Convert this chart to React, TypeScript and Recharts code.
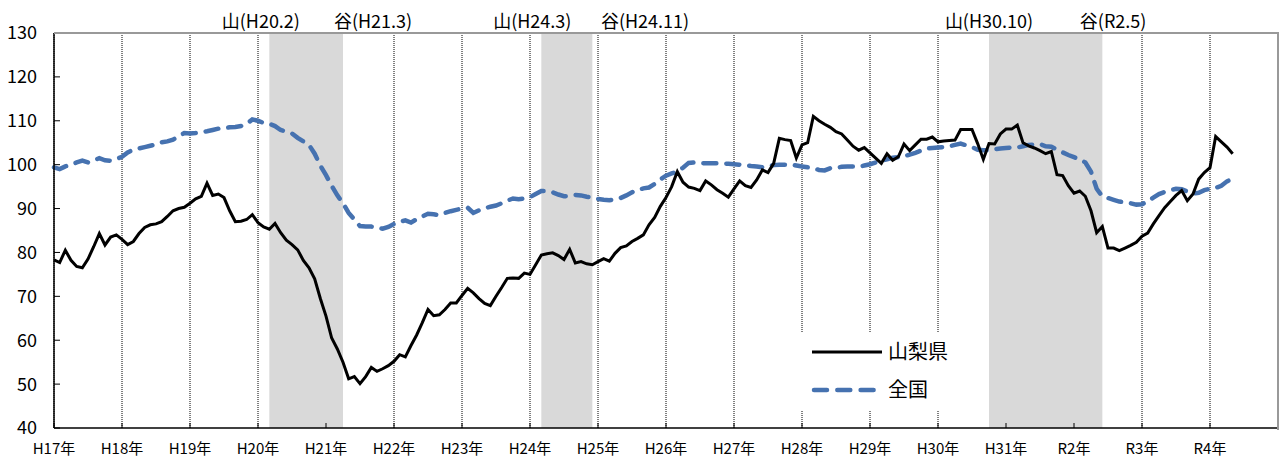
import React from "react";
import {
  CartesianGrid,
  Line,
  LineChart,
  ReferenceArea,
  ReferenceDot,
  XAxis,
  YAxis
} from "recharts";

// monthly index, H17.1 = 0
const yearLabels = [
  "H17年", "H18年", "H19年", "H20年", "H21年", "H22年", "H23年", "H24年", "H25年",
  "H26年", "H27年", "H28年", "H29年", "H30年", "H31年", "R2年", "R3年", "R4年"
];

const yamanashi = [
  78.3, 77.7, 80.5, 78.2, 76.8, 76.5, 78.5, 81.3, 84.3, 81.7, 83.5, 84.0,
  83.0, 81.8, 82.5, 84.3, 85.7, 86.3, 86.5, 87.0, 88.2, 89.5, 90.0, 90.3,
  91.2, 92.2, 92.8, 95.8, 93.0, 93.3, 92.5, 89.5, 87.0, 87.1, 87.5, 88.6,
  86.8, 85.8, 85.3, 86.6, 84.5, 82.8, 81.8, 80.6, 78.2, 76.5, 74.0, 69.5,
  65.5, 60.5, 58.0, 55.0, 51.2, 51.7, 50.1, 51.7, 53.8, 52.9, 53.5, 54.2,
  55.2, 56.7, 56.2, 58.8, 61.2, 64.0, 67.0, 65.6, 65.8, 67.0, 68.5, 68.5,
  70.2, 71.8, 70.8, 69.5, 68.4, 67.9, 70.0, 72.0, 74.1, 74.2, 74.1, 75.3,
  75.0, 77.2, 79.4, 79.7, 79.9, 79.3, 78.4, 80.7, 77.6, 77.9, 77.4, 77.2,
  77.9, 78.6, 78.0, 79.8, 81.1, 81.5, 82.5, 83.2, 84.0, 86.3, 88.0, 90.5,
  92.5, 95.0, 98.4, 96.0, 94.9, 94.6, 94.1, 96.3, 95.4, 94.3, 93.5, 92.6,
  94.5, 96.3, 95.2, 94.8, 96.5, 98.8, 98.2, 100.3, 106.0, 105.7, 105.5, 101.5,
  104.5, 105.0, 111.0, 110.0, 109.2, 108.5, 107.5, 107.0, 105.6, 104.2, 103.3, 103.9,
  102.7, 101.5, 100.3, 102.5, 101.0, 101.8, 104.7, 103.2, 104.5, 105.8, 105.8, 106.3,
  105.2, 105.4, 105.5, 105.6, 108.0, 108.0, 108.0, 104.8, 101.2, 104.8, 104.7, 107.0,
  108.1, 108.1, 109.0, 105.0, 104.3, 103.8, 103.2, 102.5, 103.0, 97.7, 97.5, 95.2,
  93.5, 94.0, 92.8, 89.5, 84.5, 85.9, 81.0, 81.0, 80.4, 81.0, 81.6, 82.3,
  83.7, 84.4, 86.5, 88.4, 90.2, 91.6, 93.0, 94.1, 91.8, 93.3, 96.7, 98.2,
  99.3, 106.4, 105.2, 104.0, 102.5
];

const zenkoku = [
  99.4, 99.0, 99.6, 100.0, 100.5, 100.9, 100.5, 100.9, 101.5, 101.0, 100.9, 101.3,
  101.8, 102.8, 103.4, 103.7, 104.0, 104.3, 104.6, 105.1, 105.3, 105.7, 106.5, 107.2,
  107.1, 107.2, 107.4, 107.6, 107.9, 108.2, 108.3, 108.5, 108.6, 108.8, 109.3, 110.3,
  110.0, 109.5, 109.3, 108.8, 107.9, 107.5, 107.1, 106.1, 105.3, 104.5, 102.5, 99.8,
  97.6, 95.2, 93.0, 91.2, 89.0, 87.5, 86.0, 85.9, 85.9, 85.6, 85.4, 85.8,
  86.5, 87.0, 87.3, 86.8, 87.6, 88.2, 88.8, 88.7, 88.5, 89.0, 89.4, 89.7,
  90.0, 90.2, 89.0, 89.6, 90.1, 90.4, 90.7, 91.2, 91.8, 92.3, 92.1, 92.3,
  92.6, 93.3, 94.0, 94.0, 93.7, 93.2, 92.8, 92.9, 93.1, 93.0, 92.7, 92.5,
  92.2, 92.0, 91.9, 92.1, 92.4, 93.0, 93.7, 94.2, 94.6, 94.8, 95.6, 96.6,
  97.5, 98.0, 98.4, 99.3, 100.4, 100.5, 100.4, 100.3, 100.3, 100.3, 100.3, 100.2,
  100.1, 100.0, 99.9, 99.7, 99.6, 99.4, 99.6, 99.9, 100.0, 100.0, 100.0, 99.8,
  99.6, 99.4, 99.2, 98.8, 98.7, 99.2, 99.3, 99.5, 99.6, 99.6, 99.5, 99.8,
  100.1, 100.5, 100.9, 101.2, 101.6, 101.7, 101.9, 102.3, 102.7, 103.2, 103.7, 103.8,
  103.9, 104.0, 104.2, 104.5, 104.8, 104.4, 104.0, 103.4, 103.3, 103.3, 103.5, 103.7,
  103.8, 103.9, 103.9, 104.2, 104.5, 104.6, 104.7, 104.2, 104.1, 103.4, 102.8, 102.2,
  101.7, 101.2, 100.5, 98.4, 94.5, 92.8, 92.4, 92.0, 91.6, 91.4, 91.2, 90.9,
  91.0, 91.6, 92.5, 93.3, 93.8, 94.2, 94.5, 94.4, 93.9, 93.4, 93.6, 94.2,
  94.5, 94.7, 95.2, 96.2, 96.8
];

const yTicks = [40, 50, 60, 70, 80, 90, 100, 110, 120, 130];

// 景気後退期 (山 -> 谷)
const recessions = [
  { from: 38, to: 51 },
  { from: 86, to: 95 },
  { from: 165, to: 185 }
];

const turningPoints = [
  { label: "山(H20.2)", at: 36.5 },
  { label: "谷(H21.3)", at: 56.3 },
  { label: "山(H24.3)", at: 84.4 },
  { label: "谷(H24.11)", at: 104.3 },
  { label: "山(H30.10)", at: 165 },
  { label: "谷(R2.5)", at: 186.9 }
];

const data = yamanashi.map((v, i) => ({ month: i, yamanashi: v, zenkoku: zenkoku[i] }));
const xTicks = yearLabels.map((_, k) => k * 12);

const FONT = "'Noto Sans CJK JP', 'Liberation Sans', sans-serif";
const BLUE = "#4672b0";
const FRAME = "#999";

function XTick(props: any) {
  const { x, y, payload } = props;
  return (
    <g>
      <line x1={x} x2={x} y1={y - 15} y2={y - 20} stroke="#000" />
      <text x={x} y={y} dy="0.71em" textAnchor="middle" fontSize={15} fill="#000" fontFamily={FONT}>
        {yearLabels[Math.round(payload.value / 12)]}
      </text>
    </g>
  );
}

function YTick(props: any) {
  const { x, y, payload } = props;
  return (
    <g>
      <line x1={x + 17} x2={x + 23} y1={y} y2={y} stroke="#000" />
      <text x={x} y={y} dy="0.36em" textAnchor="end" fontSize={18} fill="#000" fontFamily={FONT}>
        {payload.value}
      </text>
    </g>
  );
}

export default function App() {
  return (
    <div style={{ position: "relative", width: 1283, height: 458, background: "#fff" }}>
      <style>{"body{margin:0}"}</style>
      <LineChart width={1283} height={458} data={data} margin={{ top: 33, right: 5, bottom: 0, left: 0 }}>
        <CartesianGrid horizontal={false} stroke="#000" strokeDasharray="1 1" />
        {recessions.map((r) => (
          <ReferenceArea key={r.from} x1={r.from} x2={r.to} fill="#d9d9d9" fillOpacity={1} stroke="none" />
        ))}
        <XAxis
          dataKey="month"
          type="number"
          domain={[0, 216]}
          ticks={xTicks}
          interval={0}
          height={30}
          tickLine={false}
          tickSize={0}
          tickMargin={15}
          axisLine={{ stroke: "#000", strokeWidth: 1.5 }}
          tick={<XTick />}
        />
        <YAxis
          domain={[40, 130]}
          ticks={yTicks}
          width={54}
          tickLine={false}
          tickSize={0}
          tickMargin={17}
          axisLine={{ stroke: "#000", strokeWidth: 1.5 }}
          tick={<YTick />}
        />
        {turningPoints.map((t) => (
          <ReferenceDot
            key={t.label}
            x={t.at}
            y={130}
            r={0}
            fill="none"
            stroke="none"
            label={{ value: t.label, position: "top", offset: 5, fontSize: 18, fill: "#000", fontFamily: FONT }}
          />
        ))}
        <Line
          dataKey="zenkoku"
          type="linear"
          stroke={BLUE}
          strokeWidth={4.5}
          strokeDasharray="13 10"
          strokeLinecap="round"
          dot={false}
          isAnimationActive={false}
        />
        <Line
          dataKey="yamanashi"
          type="linear"
          stroke="#000"
          strokeWidth={3}
          dot={false}
          isAnimationActive={false}
        />
      </LineChart>
      {/* gray top / right frame of the plot box */}
      <div
        style={{
          position: "absolute",
          left: 54,
          top: 32,
          width: 1223,
          height: 396,
          borderTop: `2px solid ${FRAME}`,
          borderRight: `2px solid ${FRAME}`,
          pointerEvents: "none"
        }}
      />
      <div style={{ position: "absolute", left: 798, top: 333, width: 165, height: 77, background: "#fff" }}>
        <svg width={165} height={77} style={{ display: "block" }}>
          <line x1={14} x2={84} y1={19} y2={19} stroke="#000" strokeWidth={3} />
          <text x={90} y={19} dy="0.36em" fontSize={20} fill="#000" fontFamily={FONT}>山梨県</text>
          <line x1={16} x2={76} y1={57} y2={57} stroke={BLUE} strokeWidth={4.5} strokeDasharray="13 10.3" strokeLinecap="round" />
          <text x={90} y={57} dy="0.36em" fontSize={20} fill="#000" fontFamily={FONT}>全国</text>
        </svg>
      </div>
    </div>
  );
}
